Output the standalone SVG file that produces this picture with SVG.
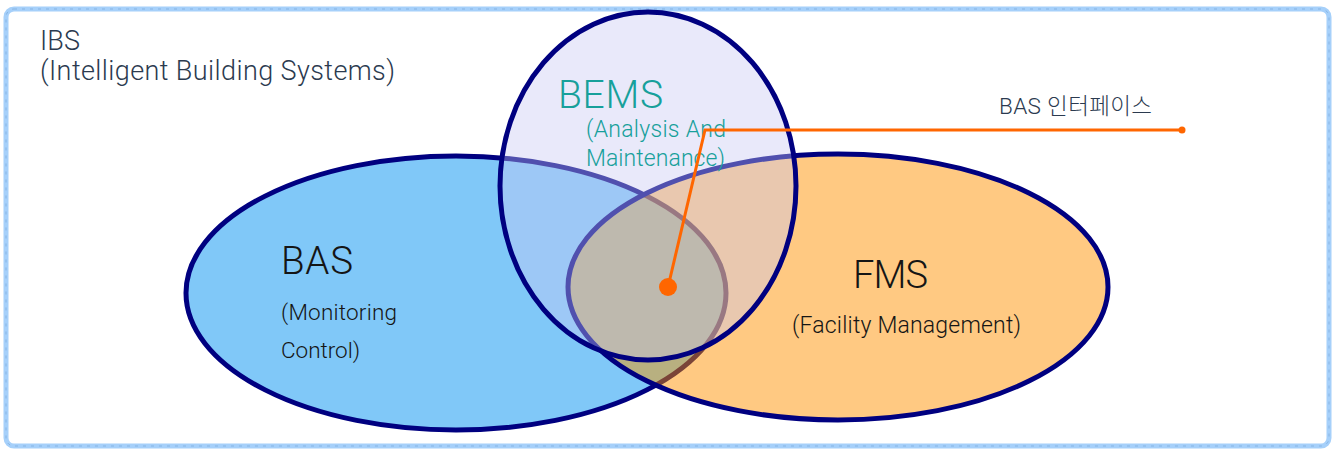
<svg xmlns="http://www.w3.org/2000/svg" width="1335" height="450" viewBox="0 0 1335 450">
<style>
text{font-family:Roboto,"Noto Sans","Noto Sans CJK KR",sans-serif;font-weight:300;}
.dark{fill:#2b3a4f;}
.blk{fill:#151515;}
.teal{fill:#17a09b;}
.ol{fill:none;stroke:#000080;stroke-width:5;}
</style>
<defs>
<ellipse id="eBas" cx="456" cy="293" rx="270" ry="137"/>
<ellipse id="eFms" cx="838" cy="287" rx="270" ry="133"/>
<ellipse id="eBems" cx="648" cy="186" rx="148" ry="174"/>
<clipPath id="cFms"><use href="#eFms"/></clipPath>
</defs>
<rect width="1335" height="450" fill="#fff"/>
<g id="ibs">
<rect x="6" y="9" width="1323" height="437" rx="8" fill="#fff" stroke="#a6d0fa" stroke-width="5"/>
<rect x="6" y="9" width="1323" height="437" rx="8" fill="none" stroke="#86b4e4" stroke-width="1" stroke-dasharray="3 5"/>
<text x="40" y="50" font-size="27" class="dark" textLength="40">IBS</text>
<text x="40" y="80" font-size="27" class="dark" textLength="355">(Intelligent Building Systems)</text>
</g>
<g id="bas">
<use href="#eBas" fill="#80c8f8"/>
<use href="#eBas" class="ol"/>
</g>
<g id="fms">
<use href="#eFms" fill="#ffc982"/>
<g clip-path="url(#cFms)">
<use href="#eBas" fill="#b8b080"/>
<use href="#eBas" fill="none" stroke="#7a4438" stroke-width="5"/>
</g>
<use href="#eFms" class="ol"/>
</g>
<g id="bems">
<use href="#eBems" fill="rgb(200,200,242)" fill-opacity="0.4"/>
<use href="#eBems" class="ol"/>
<text x="558" y="108" font-size="39" class="teal" textLength="105">BEMS</text>
<text x="586" y="137" font-size="23" class="teal" textLength="140">(Analysis And</text>
<text x="586" y="166" font-size="23" class="teal" textLength="139">Maintenance)</text>
</g>
<g id="bas-label">
<text x="281" y="274" font-size="38.5" class="blk" textLength="72">BAS</text>
<text x="281" y="320" font-size="22.5" class="blk" textLength="116">(Monitoring</text>
<text x="281" y="358" font-size="22.5" class="blk" textLength="79">Control)</text>
</g>
<g id="fms-label">
<text x="853" y="288" font-size="38" class="blk" textLength="75">FMS</text>
<text x="792" y="333" font-size="23" class="blk" textLength="229">(Facility Management)</text>
</g>
<g id="connectors">
<polyline points="668,287 705,130 1182,130" fill="none" stroke="#ff6600" stroke-width="3"/>
<circle cx="668" cy="287" r="9" fill="#ff6600"/>
<circle cx="1182" cy="130" r="3.5" fill="#ff6600"/>
</g>
<g id="bas-interface">
<text x="999" y="114" font-size="22.5" class="dark" textLength="153">BAS 인터페이스</text>
</g>
</svg>
